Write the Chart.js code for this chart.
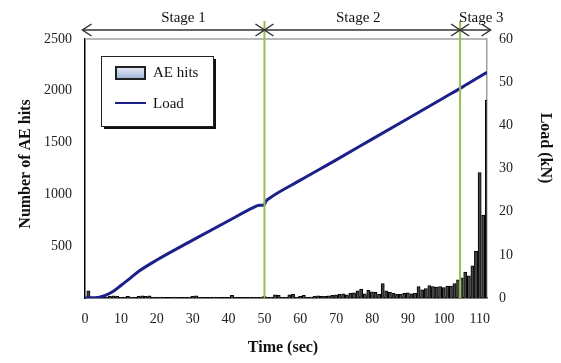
<!DOCTYPE html>
<html>
<head>
<meta charset="utf-8">
<script src="https://cdn.jsdelivr.net/npm/chart.js@4"></script>
<style>
  html, body { margin: 0; padding: 0; background: #fff; }
</style>
</head>
<body>
<canvas id="aeChart" width="561" height="363"></canvas>
<script>
// AE hits per second, t = 0 .. 111 s
const hits = [
  70, 10, 0, 5, 0, 10, 15, 20, 15, 5,
  10, 15, 10, 5, 15, 20, 15, 20, 10, 5,
  10, 5, 0, 5, 10, 5, 0, 5, 10, 15,
  20, 10, 5, 0, 5, 10, 5, 0, 5, 0,
  25, 5, 0, 5, 0, 5, 10, 5, 10, 15,
  5, 10, 30, 25, 5, 10, 30, 35, 10, 15,
  25, 5, 10, 15, 20, 15, 15, 20, 25, 30,
  35, 40, 30, 45, 50, 70, 85, 40, 75, 60,
  55, 35, 140, 70, 55, 45, 35, 35, 45, 50,
  40, 45, 110, 80, 90, 120, 110, 105, 110, 100,
  115, 115, 140, 175, 195, 250, 215, 310, 450, 1210,
  800, 1910
];
const seconds = hits.map((_, i) => i);

// load curve (time in s, load in kN)
const loadTime = [0, 4, 6, 8, 10, 12, 15, 20, 30, 40, 47, 48.5, 49.8, 50.5, 51.2, 60, 70, 80, 90, 100, 105, 112];
const loadKN   = [0, 0.2, 0.7, 1.6, 2.9, 4.2, 6.2, 8.8, 13.4, 17.9, 21.0, 21.5, 21.5, 22.5, 23, 27.3, 32, 36.8, 41.6, 46.4, 48.8, 52.3];

// stages
const stageEdges = [-0.7, 50, 104.5, 113];
const stageNames = ['Stage 1', 'Stage 2', 'Stage 3'];

const serif = "'Liberation Serif', 'Times New Roman', serif";
const navy = '#1c2088';

const overlay = {
    id: 'overlay',
    afterDatasetsDraw(chart) {
        const { ctx, chartArea: a, scales: { x } } = chart;
        ctx.save();
        // top frame line
        ctx.strokeStyle = '#a0a0a0';
        ctx.lineWidth = 1.5;
        ctx.beginPath();
        ctx.moveTo(a.left, a.top);
        ctx.lineTo(a.right, a.top);
        ctx.stroke();

        // stage boundary lines
        ctx.strokeStyle = '#9bbb59';
        ctx.lineWidth = 2;
        stageEdges.slice(1, -1).forEach(t => {
            const px = x.getPixelForValue(t);
            ctx.beginPath();
            ctx.moveTo(px, 21);
            ctx.lineTo(px, a.bottom);
            ctx.stroke();
        });

        // double arrows + stage labels
        const ay = 30;
        const head = (px, dir) => {
            ctx.beginPath();
            ctx.moveTo(px + dir * 9, ay - 6);
            ctx.lineTo(px, ay);
            ctx.lineTo(px + dir * 9, ay + 6);
            ctx.stroke();
        };
        ctx.strokeStyle = '#333';
        ctx.lineWidth = 1.5;
        ctx.fillStyle = '#111';
        ctx.font = '15px ' + serif;
        ctx.textAlign = 'center';
        ctx.textBaseline = 'middle';
        const textShift = [10, -4, 6];
        stageNames.forEach((name, i) => {
            const x0 = x.getPixelForValue(stageEdges[i]);
            const x1 = x.getPixelForValue(stageEdges[i + 1]);
            ctx.beginPath();
            ctx.moveTo(x0, ay);
            ctx.lineTo(x1, ay);
            ctx.stroke();
            head(x0, 1);
            head(x1, -1);
            ctx.fillText(name, (x0 + x1) / 2 + textShift[i], 18);
        });

        // legend box
        ctx.fillStyle = '#111';
        ctx.fillRect(104, 59, 112, 70);
        ctx.fillStyle = '#fff';
        ctx.fillRect(101, 56, 112, 70);
        ctx.strokeStyle = '#222';
        ctx.lineWidth = 1;
        ctx.strokeRect(101.5, 56.5, 112, 70);

        const g = ctx.createLinearGradient(0, 66, 0, 79);
        g.addColorStop(0, '#eef2fa');
        g.addColorStop(1, '#9fb3d6');
        ctx.fillStyle = g;
        ctx.fillRect(116, 67, 29, 12);
        ctx.strokeStyle = '#222';
        ctx.lineWidth = 2;
        ctx.strokeRect(116, 67, 29, 12);

        ctx.strokeStyle = navy;
        ctx.lineWidth = 2;
        ctx.beginPath();
        ctx.moveTo(115, 103);
        ctx.lineTo(146, 103);
        ctx.stroke();

        ctx.fillStyle = '#111';
        ctx.font = '15px ' + serif;
        ctx.textAlign = 'left';
        ctx.fillText('AE hits', 153, 73);
        ctx.fillText('Load', 153, 104);

        // axis titles
        ctx.font = 'bold 16px ' + serif;
        ctx.textAlign = 'center';
        ctx.fillText('Time (sec)', 283, 348);

        ctx.save();
        ctx.translate(26, 164);
        ctx.rotate(-Math.PI / 2);
        ctx.fillText('Number of AE hits', 0, 0);
        ctx.restore();

        ctx.save();
        ctx.translate(545, 148);
        ctx.rotate(Math.PI / 2);
        ctx.fillText('Load (kN)', 0, 0);
        ctx.restore();

        ctx.restore();
    }
};

const tickFont = { family: serif, size: 14 };

new Chart(document.getElementById('aeChart'), {
    data: {
        labels: seconds,
        datasets: [
            {
                type: 'line',
                label: 'Load',
                data: loadTime.map((t, i) => ({ x: t, y: loadKN[i] })),
                xAxisID: 'x',
                yAxisID: 'y1',
                borderColor: navy,
                borderWidth: 3,
                pointRadius: 0,
                cubicInterpolationMode: 'monotone',
                order: 0
            },
            {
                type: 'bar',
                label: 'AE hits',
                data: hits,
                xAxisID: 'xb',
                yAxisID: 'y',
                backgroundColor: '#444',
                borderColor: '#000',
                borderWidth: 1,
                barThickness: 3.2,
                order: 1
            }
        ]
    },
    options: {
        responsive: false,
        animation: false,
        layout: { padding: { top: 39, left: 0, right: 0, bottom: 0 } },
        plugins: { legend: { display: false }, tooltip: { enabled: false } },
        scales: {
            x: {
                type: 'linear',
                position: 'bottom',
                min: 0,
                max: 112,
                grid: { display: false },
                border: { color: '#000', width: 1.5 },
                ticks: { stepSize: 10, includeBounds: false, padding: 5, color: '#222', font: tickFont, maxRotation: 0 },
                afterFit: s => { s.height = 65; }
            },
            xb: {
                type: 'category',
                display: false,
                offset: true
            },
            y: {
                position: 'left',
                min: 0,
                max: 2500,
                grid: { display: false },
                border: { color: '#000', width: 1.5 },
                ticks: { stepSize: 500, padding: 5, color: '#222', font: tickFont, callback: v => v === 0 ? '' : v },
                afterFit: s => { s.width = 85; }
            },
            y1: {
                position: 'right',
                min: 0,
                max: 60,
                grid: { display: false },
                border: { color: '#a0a0a0', width: 1.5 },
                ticks: { stepSize: 10, padding: 4, color: '#222', font: tickFont },
                afterFit: s => { s.width = 74; }
            }
        }
    },
    plugins: [overlay]
});
</script>
</body>
</html>
